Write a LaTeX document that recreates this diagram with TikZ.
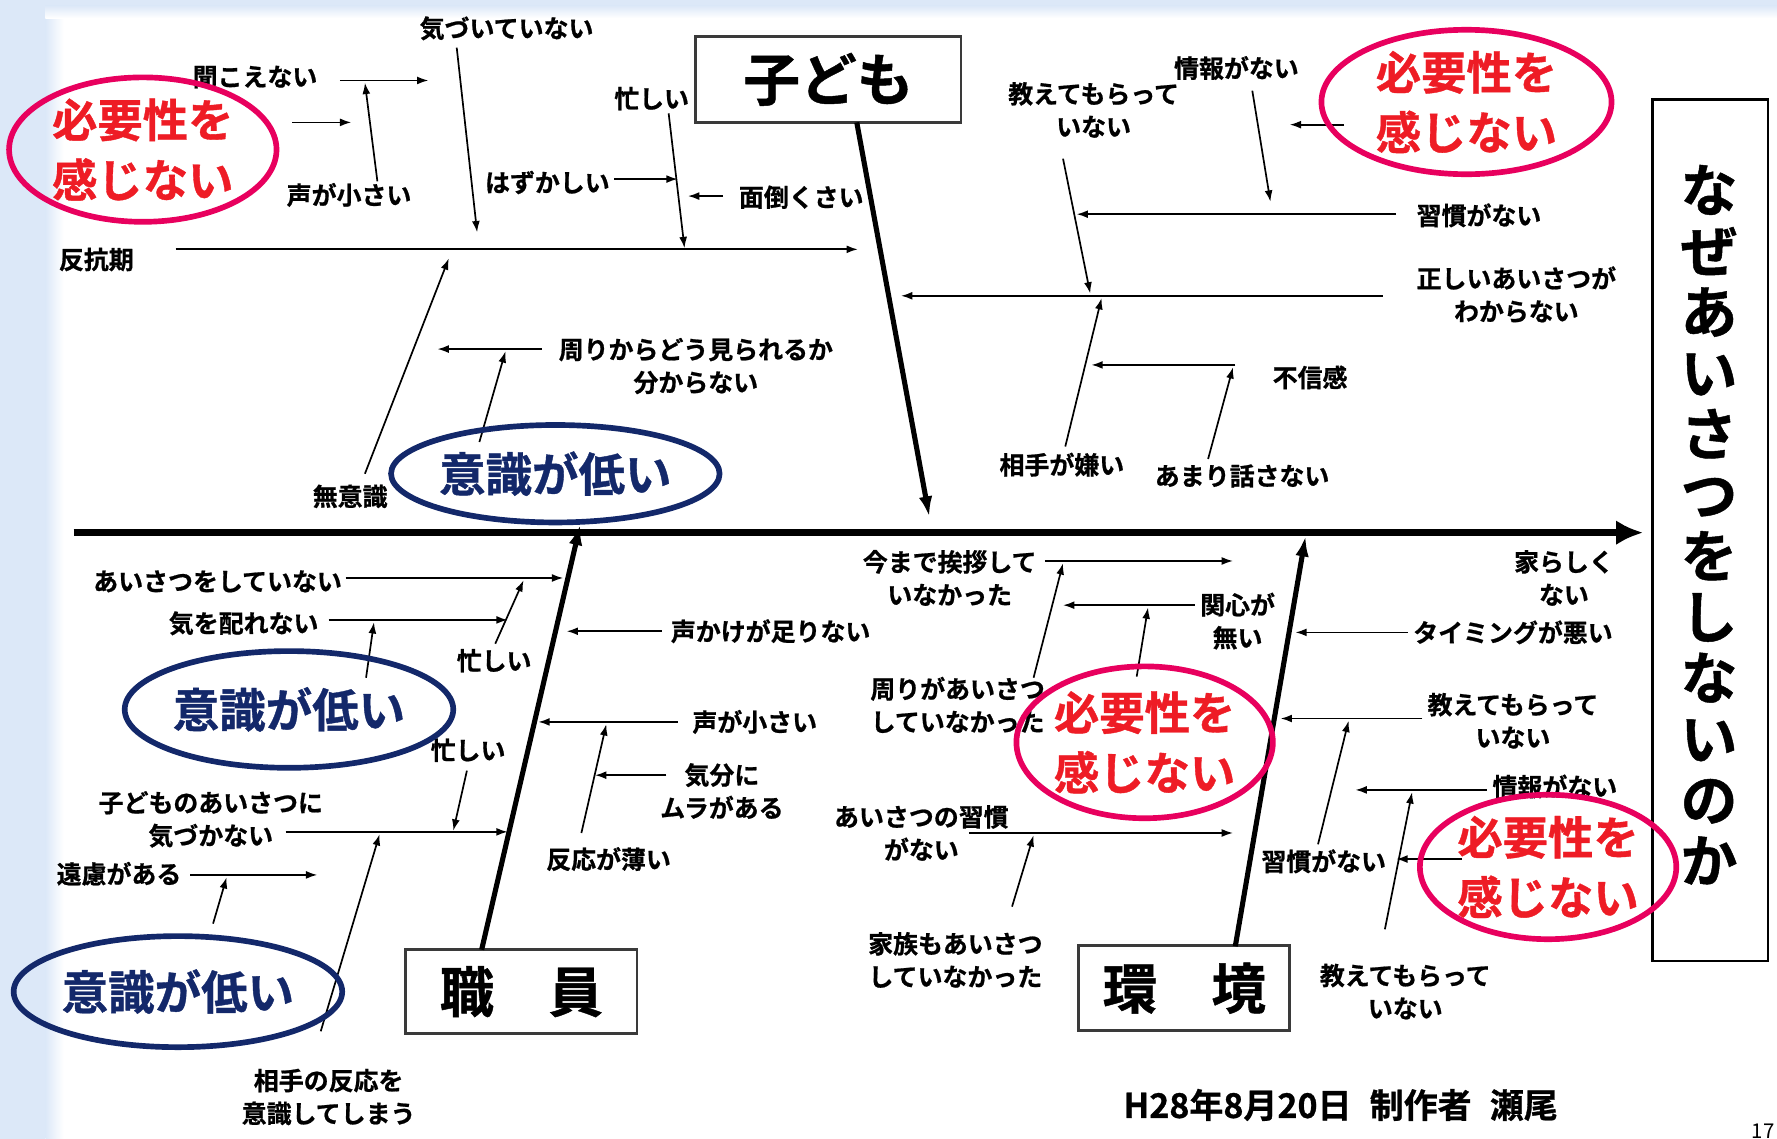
\documentclass[tikz,border=0pt]{standalone}
\usepackage{fontspec}
\setmainfont{Noto Sans CJK JP}[BoldFont={Noto Sans CJK JP Bold},BoldFeatures={FakeBold=0.8}]
\usetikzlibrary{arrows.meta,shapes.geometric}
\definecolor{bgblue}{HTML}{DCE8F8}
\definecolor{ered}{HTML}{EE1C25}
\definecolor{epink}{HTML}{E8005E}
\definecolor{navy}{HTML}{13286A}
\definecolor{boxgray}{HTML}{3A3A3A}
\begin{document}
\begin{tikzpicture}[x=1pt,y=-1pt,
 lab/.style={font=\fontsize{22}{29}\selectfont\bfseries, inner sep=0pt, align=center},
 arr/.style={-{Latex[length=10pt,width=7pt]}, line width=1.5pt},
 bone/.style={-{Latex[length=18pt,width=12pt]}, line width=4.5pt},
 redell/.style={ellipse, draw=epink, line width=5pt, text=ered, font=\fontsize{40}{53}\selectfont\bfseries, align=center, inner sep=0pt},
 navyell/.style={ellipse, draw=navy, line width=5pt, text=navy, font=\fontsize{41}{50}\selectfont\bfseries, inner sep=0pt},
 catbox/.style={draw=boxgray, line width=2.5pt, rectangle, font=\fontsize{50}{50}\selectfont\bfseries, inner sep=0pt}
]
\clip (0,0) rectangle (1568,1005);
\useasboundingbox (0,0) rectangle (1568,1005);
% background
\fill[white] (0,0) rectangle (1568,1005);
\fill[bgblue] (0,0) rectangle (40,1005);
\shade[left color=bgblue, right color=white] (40,0) rectangle (56,1005);
\fill[bgblue] (40,0) rectangle (1568,5);
\shade[top color=bgblue, bottom color=white] (40,5) rectangle (1568,16);

% category boxes
\node[catbox, minimum width=234pt, minimum height=76pt] (kodomo) at (731,70) {子ども};
\node[catbox, minimum width=204pt, minimum height=74pt, font=\fontsize{48}{48}\selectfont\bfseries] (shokuin) at (460,875) {職　員};
\node[catbox, minimum width=186pt, minimum height=75pt, font=\fontsize{48}{48}\selectfont\bfseries] (kankyo) at (1045,872) {環　境};
\node[draw=black, line width=2.5pt, minimum width=102pt, minimum height=760pt, inner sep=0pt] (effect) at (1509,468) {};
\node[font=\fontsize{50}{53.8}\selectfont\bfseries, align=center, inner sep=0pt] (why) at (1508,463) {な\\ぜ\\あ\\い\\さ\\つ\\を\\し\\な\\い\\の\\か};

% spine and bones
\coordinate (sp1) at (65,470); \coordinate (sp2) at (1450,470);
\draw[line width=6pt, -{Latex[length=24pt,width=22pt]}] (sp1) -- (sp2);
\coordinate (b1s) at (756,108); \coordinate (b1e) at (820,456);
\draw[bone] (b1s) -- (b1e);
\coordinate (b2s) at (425,838); \coordinate (b2e) at (512,463);
\draw[bone] (b2s) -- (b2e);
\coordinate (b3s) at (1090,835); \coordinate (b3e) at (1152,473);
\draw[bone] (b3s) -- (b3e);

% ---------- labels ----------
\node[lab] (kizui) at (447,25) {気づいていない};
\node[lab] (kikoe) at (225,68) {聞こえない};
\node[lab] (koe1) at (308,172) {声が小さい};
\node[lab] (hanko) at (85,229) {反抗期};
\node[lab] (isog1) at (575,87) {忙しい};
\node[lab] (hazu) at (483,161) {はずかしい};
\node[lab] (mendo) at (707,174) {面倒くさい};
\node[lab] (muishiki) at (309,438) {無意識};
\node[lab] (mawari) at (614,323) {周りからどう見られるか\\分からない};
\node[lab] (oshie1) at (965,97) {教えてもらって\\いない};
\node[lab] (joho1) at (1091,60) {情報がない};
\node[lab] (shukan1) at (1305,190) {習慣がない};
\node[lab] (tadashii) at (1338,260) {正しいあいさつが\\わからない};
\node[lab] (fushin) at (1156,333) {不信感};
\node[lab] (amari) at (1096,420) {あまり話さない};
\node[lab] (aite) at (937,410) {相手が嫌い};

\node[lab] (aisatsu) at (192,513) {あいさつをしていない};
\node[lab] (kikubari) at (215,550) {気を配れない};
\node[lab] (isog2) at (436,583) {忙しい};
\node[lab] (isog3) at (413,662) {忙しい};
\node[lab] (kodomono) at (186,723) {子どものあいさつに\\気づかない};
\node[lab] (enryo) at (105,771) {遠慮がある};
\node[lab] (hanno) at (290,968) {相手の反応を\\意識してしまう};
\node[lab] (koekake) at (680,557) {声かけが足りない};
\node[lab] (koe2) at (666,637) {声が小さい};
\node[lab] (kibun) at (637,698) {気分に\\ムラがある};
\node[lab] (hannousui) at (537,758) {反応が薄い};

\node[lab] (imamade) at (838,510) {今まで挨拶して\\いなかった};
\node[lab] (kanshin) at (1092,548) {関心が\\無い};
\node[lab] (mawari2) at (845,622) {周りがあいさつ\\していなかった};
\node[lab] (shukan2) at (813,735) {あいさつの習慣\\がない};
\node[lab] (kazoku) at (843,847) {家族もあいさつ\\していなかった};
\node[lab] (ierashiku) at (1380,510) {家らしく\\ない};
\node[lab] (timing) at (1335,558) {タイミングが悪い};
\node[lab] (oshie2) at (1335,636) {教えてもらって\\いない};
\node[lab] (joho2) at (1372,694) {情報がない};
\node[lab] (shukan3) at (1168,760) {習慣がない};
\node[lab] (oshie3) at (1240,875) {教えてもらって\\いない};

\node[font=\fontsize{30}{30}\selectfont\bfseries, inner sep=0pt] (date) at (1183,975) {H28年8月20日\hspace{16pt}制作者\hspace{16pt}瀬尾};
\node[font=\fontsize{18}{18}\selectfont, anchor=east, inner sep=0pt] (pg) at (1566,998) {17};

% ---------- arrows ----------
\coordinate (p1) at (155,220); \coordinate (q1) at (757,220);
\coordinate (p2) at (403,42); \coordinate (q2) at (421,205);
\coordinate (p3) at (300,71); \coordinate (q3) at (378,71);
\coordinate (p4) at (333,160); \coordinate (q4) at (322,73);
\coordinate (p5) at (258,108); \coordinate (q5) at (310,108);
\coordinate (p6) at (590,100); \coordinate (q6) at (604,219);
\coordinate (p7) at (542,158); \coordinate (q7) at (598,158);
\coordinate (p8) at (638,173); \coordinate (q8) at (607,173);
\coordinate (p9) at (322,418); \coordinate (q9) at (396,228);
\coordinate (p10) at (478,308); \coordinate (q10) at (386,308);
\coordinate (p11) at (423,390); \coordinate (q11) at (446,310);
\coordinate (p12) at (1232,189); \coordinate (q12) at (950,189);
\coordinate (p13) at (1220,261); \coordinate (q13) at (795,261);
\coordinate (p14) at (938,140); \coordinate (q14) at (962,259);
\coordinate (p15) at (1105,80); \coordinate (q15) at (1121,178);
\coordinate (p16) at (1186,110); \coordinate (q16) at (1138,110);
\coordinate (p17) at (1090,322); \coordinate (q17) at (963,322);
\coordinate (p18) at (1066,405); \coordinate (q18) at (1088,324);
\coordinate (p19) at (940,394); \coordinate (q19) at (972,263);
\coordinate (p20) at (305,510); \coordinate (q20) at (497,510);
\coordinate (p21) at (290,547); \coordinate (q21) at (448,547);
\coordinate (p22) at (437,568); \coordinate (q22) at (462,512);
\coordinate (p23) at (323,598); \coordinate (q23) at (330,549);
\coordinate (p24) at (584,557); \coordinate (q24) at (500,557);
\coordinate (p25) at (598,637); \coordinate (q25) at (475,637);
\coordinate (p26) at (588,684); \coordinate (q26) at (525,684);
\coordinate (p27) at (513,735); \coordinate (q27) at (535,639);
\coordinate (p28) at (412,680); \coordinate (q28) at (400,733);
\coordinate (p29) at (252,734); \coordinate (q29) at (448,734);
\coordinate (p30) at (168,772); \coordinate (q30) at (280,772);
\coordinate (p31) at (188,815); \coordinate (q31) at (200,774);
\coordinate (p32) at (283,910); \coordinate (q32) at (335,736);
\coordinate (p33) at (922,495); \coordinate (q33) at (1088,495);
\coordinate (p34) at (1054,534); \coordinate (q34) at (938,534);
\coordinate (p35) at (912,598); \coordinate (q35) at (938,497);
\coordinate (p36) at (1003,597); \coordinate (q36) at (1013,536);
\coordinate (p37) at (855,735); \coordinate (q37) at (1088,735);
\coordinate (p38) at (893,800); \coordinate (q38) at (912,737);
\coordinate (p39) at (1242,558); \coordinate (q39) at (1143,558);
\coordinate (p40) at (1255,634); \coordinate (q40) at (1130,634);
\coordinate (p41) at (1312,697); \coordinate (q41) at (1196,697);
\coordinate (p42) at (1290,758); \coordinate (q42) at (1232,758);
\coordinate (p43) at (1163,745); \coordinate (q43) at (1190,636);
\coordinate (p44) at (1222,820); \coordinate (q44) at (1246,699);
\foreach \i in {1,...,44} {\draw[arr] (p\i) -- (q\i);}

% ---------- ellipses ----------
\node[redell, minimum width=236pt, minimum height=125pt] (needTL) at (126,132) {必要性を\\感じない};
\node[redell, minimum width=256pt, minimum height=120pt] (needTR) at (1294,90) {必要性を\\感じない};
\node[redell, minimum width=212pt, minimum height=134pt] (needM) at (1010,655) {必要性を\\感じない};
\node[redell, minimum width=212pt, minimum height=120pt] (needBR) at (1366,765) {必要性を\\感じない};
\node[navyell, minimum width=282pt, minimum height=86pt] (lowU) at (490,418) {意識が低い};
\node[navyell, minimum width=260pt, minimum height=103pt] (lowM) at (255,626) {意識が低い};
\node[navyell, minimum width=259pt, minimum height=98pt] (lowB) at (157,875) {意識が低い};
\end{tikzpicture}
\end{document}
